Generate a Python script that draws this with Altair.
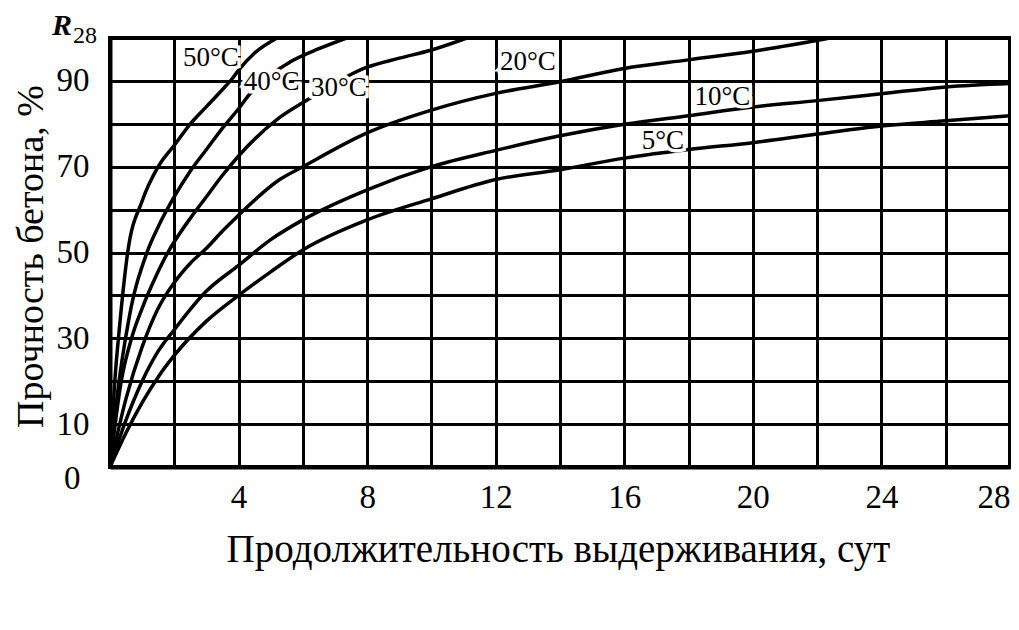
import altair as alt
import pandas as pd

# ---- data ----
temps = ["50°C", "40°C", "30°C", "20°C", "10°C", "5°C"]

days_50 = [0, 0.15, 0.3, 0.55, 1.0, 1.5, 2.0, 2.5, 3.0, 3.5, 3.8, 4.0, 4.5, 5.2]
pct_50 = [0, 20, 33, 50, 62, 70, 75, 80, 84, 88, 90.5, 92.5, 96.5, 100]

days_40 = [0, 0.2, 0.6, 1.15, 1.5, 2.0, 2.5, 3.0, 3.5, 4.0, 4.3, 5.6, 6.5, 7.36]
pct_40 = [0, 15, 35, 50, 56, 63, 69, 74, 79, 83.5, 86.5, 94.4, 97.5, 100]

days_30 = [0, 0.35, 0.67, 1.0, 1.4, 1.8, 2.0, 2.5, 3.0, 3.5, 4.0, 5.28, 6.1, 8.0, 9.0, 10.0, 11.1]
pct_30 = [0, 20, 30, 37, 44, 50, 52.5, 58, 63, 68, 72.5, 81.5, 85.4, 93.2, 95.3, 97.2, 100]

days_20 = [0, 0.5, 1.0, 1.5, 2.0, 2.5, 3.0, 3.5, 4.0, 5.28, 6.0, 8.0, 10.0, 12.0, 14.0, 16.0, 18.0, 20.0, 22.4]
pct_20 = [0, 16, 28, 37, 43, 47.5, 51, 55, 58.7, 67, 70, 77.9, 83.2, 87.1, 89.8, 92.9, 94.9, 96.9, 100]

days_10 = [0, 0.5, 1.0, 1.5, 2.0, 3.0, 4.0, 5.0, 6.0, 8.0, 10.0, 12.0, 14.0, 16.0, 18.0, 20.0, 22.0, 24.0, 26.0, 28.0]
pct_10 = [0, 11, 20, 27, 32, 41, 47, 53, 57.6, 64.6, 70, 73.8, 77.2, 79.9, 81.9, 83.9, 85.4, 87, 88.6, 89.4]

days_5 = [0, 0.5, 1.0, 1.5, 2.0, 3.0, 4.0, 5.0, 6.0, 8.0, 10.0, 12.0, 14.0, 16.0, 18.0, 20.0, 22.0, 24.0, 26.0, 28.0]
pct_5 = [0, 8, 15, 21, 26, 34, 40, 45.5, 50.6, 57.6, 62.5, 67, 69.3, 72, 74, 75.6, 77.6, 79.5, 80.7, 81.9]

label_day = [3.14, 5.03, 7.12, 13.0, 19.05, 17.2]
label_pct = [95.3, 89.7, 88.3, 94.4, 86.2, 76.0]

x_ticks = list(range(0, 29, 2))
y_ticks = list(range(0, 101, 10))

x_title = "Продолжительность выдерживания, сут"
y_title = "Прочность бетона, %"

# ---- tables ----
series = [(temps[0], days_50, pct_50), (temps[1], days_40, pct_40), (temps[2], days_30, pct_30),
          (temps[3], days_20, pct_20), (temps[4], days_10, pct_10), (temps[5], days_5, pct_5)]
rows = []
for t, ds, ps in series:
    for d, p in zip(ds, ps):
        rows.append({"temp": t, "day": d, "pct": p})
df = pd.DataFrame(rows)
labels = pd.DataFrame({"temp": temps, "day": label_day, "pct": label_pct})

FONT = "Liberation Serif"

xscale = alt.Scale(domain=[0, 28], nice=False, zero=False)
yscale = alt.Scale(domain=[0, 100], nice=False, zero=False)

xaxis = alt.Axis(
    values=x_ticks,
    labelExpr="(datum.value % 4 == 0 && datum.value > 0) ? datum.label : ''",
    grid=True, gridColor="black", gridWidth=3, gridOpacity=1,
    domain=True, domainColor="black", domainWidth=4,
    ticks=False,
    labelFont=FONT, labelFontSize=33, labelColor="black", labelPadding=14,
    labelFlush=True,
    title=x_title, titleFont=FONT, titleFontSize=39, titleFontWeight="normal",
    titleColor="black", titleX=448, titleY=82, titleBaseline="middle",
)
yaxis = alt.Axis(
    values=y_ticks,
    labelExpr="(datum.value == 0 || datum.value % 20 == 10) ? datum.label : ''",
    grid=True, gridColor="black", gridWidth=3, gridOpacity=1,
    domain=True, domainColor="black", domainWidth=4,
    ticks=False,
    labelFont=FONT, labelFontSize=33, labelColor="black",
    labelPadding={"condition": {"test": "datum.value == 0", "value": 30}, "value": 21},
    labelOffset={"condition": {"test": "datum.value == 0", "value": 11}, "value": 0},
    title=y_title, titleFont=FONT, titleFontSize=38, titleFontWeight="normal",
    titleColor="black", titleX=-79, titleY=218, titleAngle=270,
    titleAlign="center", titleBaseline="middle",
)

lines = alt.Chart(df).mark_line(
    color="black", strokeWidth=3.5, interpolate="monotone", clip=True
).encode(
    x=alt.X("day:Q", scale=xscale, axis=xaxis),
    y=alt.Y("pct:Q", scale=yscale, axis=yaxis),
    detail="temp:N",
)

halo = alt.Chart(labels).mark_text(
    font=FONT, fontSize=27, stroke="white", strokeWidth=7, fill="white",
).encode(
    x=alt.X("day:Q", scale=xscale), y=alt.Y("pct:Q", scale=yscale), text="temp:N"
)
txt = alt.Chart(labels).mark_text(
    font=FONT, fontSize=27, color="black",
).encode(
    x=alt.X("day:Q", scale=xscale), y=alt.Y("pct:Q", scale=yscale), text="temp:N"
)

r_df = pd.DataFrame({"t": ["R"]})
s_df = pd.DataFrame({"t": ["28"]})
r_text = alt.Chart(r_df).mark_text(
    font=FONT, fontSize=30, fontStyle="italic", fontWeight="bold", color="black",
    align="left", baseline="alphabetic", x=-58, y=-3,
).encode(text="t:N")
s_text = alt.Chart(s_df).mark_text(
    font=FONT, fontSize=24, color="black",
    align="left", baseline="alphabetic", x=-37, y=5,
).encode(text="t:N")

chart = alt.layer(lines, halo, txt, r_text, s_text).properties(
    width=900, height=429,
    padding={"left": 102, "top": 30, "right": 1, "bottom": 120},
    autosize="none",
    background="white",
).configure_view(stroke="black", strokeWidth=4)

chart.save("out.html", embed_options={"renderer": "svg", "actions": False})
